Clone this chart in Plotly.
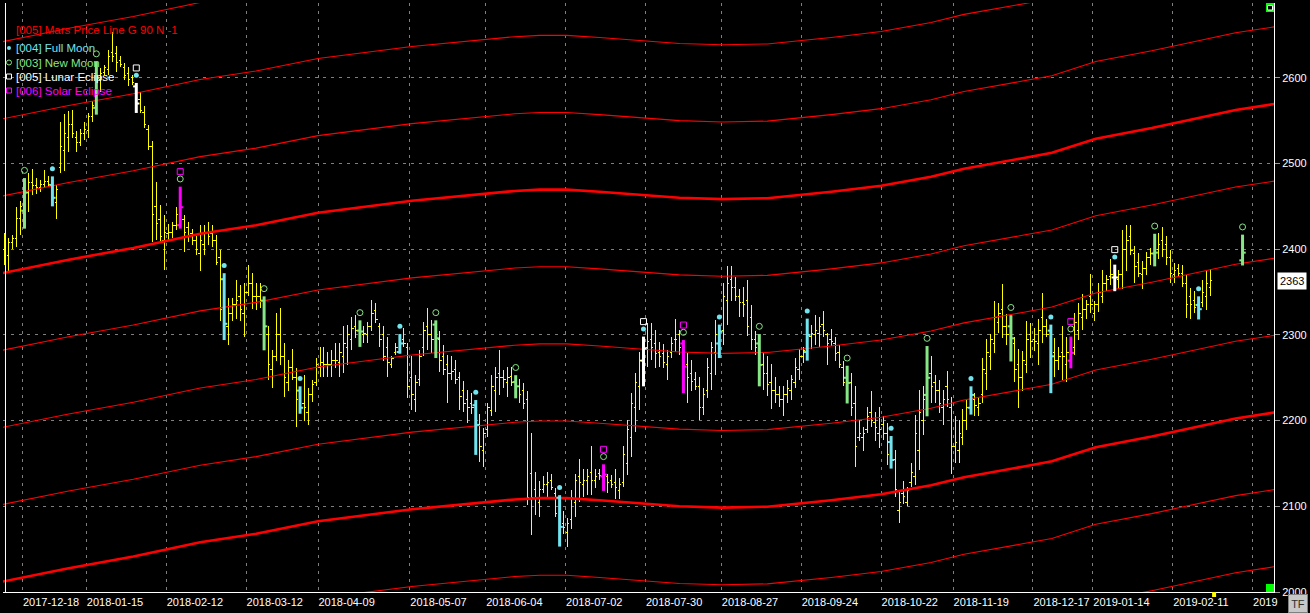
import plotly.graph_objects as go
import numpy as np

# ---------------- data (bar index = trading-day position) ----------------
bar_idx = list(range(1, 304)) + [311]

bar_high = [
 2419, 2413, 2417, 2449, 2456, 2483, 2489, 2494, 2483, 2481,
 2492, 2485, 2485, 2475, 2549, 2558, 2561, 2563, 2538, 2540,
 2549, 2559, 2573, 2619, 2611, 2615, 2633, 2654, 2637, 2625,
 2617, 2613, 2603, 2594, 2584, 2567, 2545, 2526, 2479, 2452,
 2440, 2430, 2432, 2449, 2473, 2440, 2432, 2424, 2415, 2428,
 2428, 2432, 2428, 2417, 2399, 2372, 2343, 2343, 2364, 2358,
 2360, 2382, 2372, 2360, 2360, 2345, 2310, 2282, 2325, 2331,
 2290, 2271, 2284, 2261, 2240, 2253, 2238, 2247, 2273, 2286,
 2286, 2280, 2282, 2290, 2290, 2310, 2312, 2321, 2323, 2317,
 2310, 2315, 2341, 2337, 2314, 2310, 2298, 2275, 2290, 2301,
 2308, 2290, 2275, 2253, 2282, 2315, 2331, 2317, 2317, 2304,
 2288, 2277, 2275, 2271, 2257, 2246, 2236, 2232, 2224, 2208,
 2191, 2220, 2253, 2263, 2282, 2259, 2263, 2263, 2253, 2249,
 2244, 2234, 2185, 2140, 2129, 2135, 2140, 2138, 2121, 2113,
 2094, 2086, 2119, 2138, 2155, 2143, 2143, 2170, 2143, 2144,
 2149, 2138, 2137, 2144, 2133, 2170, 2201, 2232, 2255, 2280,
 2298, 2314, 2314, 2306, 2292, 2289, 2282, 2298, 2318, 2306,
 2294, 2279, 2271, 2257, 2251, 2238, 2273, 2292, 2317, 2312,
 2360, 2380, 2380, 2368, 2354, 2356, 2364, 2335, 2304, 2301,
 2280, 2275, 2266, 2251, 2240, 2240, 2247, 2253, 2273, 2284,
 2286, 2319, 2312, 2323, 2321, 2328, 2302, 2307, 2298, 2288,
 2269, 2264, 2255, 2240, 2201, 2193, 2216, 2234, 2210, 2216,
 2205, 2197, 2182, 2166, 2117, 2129, 2123, 2150, 2207, 2236,
 2240, 2287, 2275, 2253, 2247, 2236, 2258, 2228, 2205, 2201,
 2213, 2224, 2240, 2232, 2228, 2273, 2295, 2301, 2339, 2337,
 2359, 2324, 2323, 2298, 2284, 2281, 2316, 2314, 2308, 2319,
 2349, 2318, 2312, 2296, 2286, 2310, 2298, 2298, 2325, 2337,
 2348, 2341, 2371, 2339, 2360, 2376, 2370, 2388, 2382, 2376,
 2423, 2428, 2428, 2404, 2395, 2386, 2397, 2401, 2418, 2419,
 2426, 2415, 2399, 2384, 2383, 2382, 2370, 2355, 2351, 2345,
 2364, 2376, 2377,
 2417]

bar_low = [
 2382, 2374, 2400, 2403, 2417, 2424, 2444, 2463, 2465, 2467,
 2471, 2473, 2450, 2435, 2489, 2491, 2514, 2530, 2514, 2520,
 2528, 2530, 2549, 2557, 2584, 2603, 2603, 2619, 2607, 2613,
 2598, 2590, 2592, 2559, 2559, 2541, 2516, 2409, 2411, 2409,
 2376, 2411, 2413, 2423, 2424, 2397, 2409, 2405, 2393, 2374,
 2393, 2405, 2403, 2382, 2316, 2294, 2288, 2316, 2318, 2316,
 2298, 2345, 2330, 2329, 2331, 2282, 2247, 2238, 2269, 2265,
 2228, 2234, 2247, 2193, 2208, 2199, 2195, 2222, 2240, 2251,
 2251, 2251, 2251, 2261, 2251, 2255, 2265, 2282, 2296, 2286,
 2290, 2290, 2304, 2314, 2286, 2269, 2251, 2261, 2277, 2278,
 2286, 2226, 2212, 2210, 2240, 2275, 2282, 2279, 2273, 2257,
 2253, 2220, 2247, 2243, 2212, 2210, 2197, 2208, 2160, 2152,
 2146, 2181, 2205, 2210, 2230, 2238, 2228, 2240, 2226, 2220,
 2214, 2101, 2066, 2090, 2088, 2115, 2111, 2119, 2088, 2053,
 2068, 2053, 2074, 2088, 2105, 2111, 2113, 2113, 2121, 2131,
 2118, 2115, 2121, 2109, 2108, 2123, 2137, 2158, 2187, 2212,
 2240, 2263, 2271, 2261, 2263, 2261, 2247, 2273, 2280, 2277,
 2232, 2220, 2234, 2236, 2201, 2207, 2226, 2236, 2253, 2273,
 2288, 2312, 2339, 2339, 2321, 2321, 2299, 2282, 2277, 2240,
 2236, 2229, 2213, 2220, 2216, 2205, 2220, 2224, 2238, 2247,
 2267, 2270, 2284, 2288, 2286, 2298, 2265, 2287, 2270, 2261,
 2240, 2220, 2205, 2146, 2176, 2164, 2185, 2193, 2176, 2168,
 2177, 2148, 2144, 2111, 2080, 2103, 2100, 2123, 2125, 2142,
 2183, 2205, 2220, 2220, 2209, 2195, 2216, 2138, 2150, 2150,
 2172, 2189, 2207, 2205, 2205, 2220, 2236, 2259, 2279, 2302,
 2296, 2288, 2269, 2245, 2215, 2235, 2255, 2273, 2281, 2265,
 2290, 2298, 2232, 2251, 2259, 2247, 2245, 2261, 2277, 2294,
 2306, 2318, 2326, 2316, 2327, 2337, 2351, 2358, 2351, 2354,
 2354, 2374, 2393, 2360, 2368, 2353, 2370, 2382, 2380, 2388,
 2391, 2382, 2360, 2360, 2368, 2356, 2320, 2318, 2325, 2318,
 2333, 2329, 2345,
 2381]

bar_open = [
 2400, 2393, 2408, 2412, 2436, 2445, 2466, 2478, 2474, 2472,
 2476, 2479, 2475, 2455, 2495, 2515, 2530, 2545, 2530, 2525,
 2535, 2538, 2555, 2565, 2598, 2606, 2610, 2630, 2628, 2620,
 2612, 2605, 2600, 2590, 2575, 2560, 2540, 2520, 2450, 2435,
 2410, 2418, 2420, 2428, 2428, 2435, 2425, 2418, 2410, 2395,
 2405, 2420, 2418, 2410, 2390, 2365, 2310, 2325, 2335, 2345,
 2325, 2350, 2360, 2345, 2345, 2340, 2300, 2260, 2275, 2300,
 2275, 2245, 2262, 2250, 2235, 2220, 2210, 2230, 2245, 2262,
 2268, 2265, 2266, 2270, 2268, 2275, 2285, 2295, 2310, 2305,
 2300, 2300, 2310, 2328, 2310, 2300, 2285, 2265, 2280, 2280,
 2295, 2285, 2250, 2225, 2248, 2285, 2310, 2300, 2312, 2295,
 2275, 2265, 2255, 2260, 2250, 2235, 2225, 2220, 2218, 2195,
 2165, 2190, 2212, 2235, 2255, 2250, 2245, 2252, 2245, 2240,
 2235, 2225, 2138, 2120, 2105, 2120, 2125, 2130, 2115, 2110,
 2080, 2070, 2085, 2105, 2135, 2125, 2130, 2140, 2130, 2138,
 2135, 2135, 2130, 2128, 2118, 2128, 2150, 2180, 2215, 2240,
 2270, 2285, 2295, 2290, 2280, 2278, 2265, 2280, 2295, 2300,
 2290, 2265, 2255, 2248, 2240, 2215, 2235, 2255, 2280, 2290,
 2305, 2340, 2365, 2355, 2345, 2338, 2340, 2320, 2295, 2290,
 2265, 2255, 2245, 2235, 2230, 2225, 2230, 2235, 2245, 2260,
 2275, 2280, 2298, 2300, 2302, 2312, 2300, 2295, 2290, 2280,
 2262, 2250, 2245, 2220, 2180, 2180, 2190, 2210, 2198, 2185,
 2195, 2185, 2175, 2155, 2095, 2115, 2105, 2128, 2135, 2165,
 2200, 2230, 2255, 2245, 2235, 2215, 2240, 2215, 2170, 2165,
 2180, 2200, 2215, 2225, 2215, 2230, 2255, 2275, 2290, 2315,
 2330, 2310, 2310, 2290, 2265, 2250, 2265, 2300, 2295, 2290,
 2320, 2310, 2305, 2280, 2270, 2280, 2265, 2270, 2285, 2305,
 2320, 2330, 2345, 2325, 2335, 2345, 2360, 2368, 2367, 2365,
 2370, 2400, 2415, 2395, 2385, 2370, 2378, 2390, 2395, 2400,
 2410, 2405, 2390, 2370, 2378, 2372, 2360, 2345, 2340, 2335,
 2338, 2345, 2355,
 2387]

bar_close = [
 2393, 2408, 2412, 2436, 2450, 2466, 2478, 2474, 2472, 2476,
 2479, 2475, 2460, 2470, 2520, 2535, 2545, 2535, 2525, 2535,
 2540, 2555, 2568, 2600, 2605, 2612, 2625, 2625, 2618, 2615,
 2603, 2598, 2595, 2570, 2562, 2545, 2520, 2440, 2430, 2415,
 2420, 2420, 2428, 2440, 2449, 2420, 2415, 2410, 2400, 2410,
 2418, 2415, 2410, 2385, 2330, 2313, 2325, 2335, 2340, 2330,
 2350, 2360, 2345, 2345, 2340, 2310, 2265, 2275, 2300, 2275,
 2250, 2262, 2250, 2225, 2215, 2215, 2230, 2242, 2265, 2268,
 2265, 2266, 2270, 2270, 2280, 2290, 2300, 2308, 2305, 2304,
 2302, 2310, 2325, 2318, 2295, 2275, 2268, 2272, 2285, 2290,
 2290, 2240, 2230, 2245, 2275, 2305, 2300, 2295, 2296, 2270,
 2260, 2255, 2257, 2248, 2228, 2220, 2215, 2215, 2195, 2170,
 2185, 2215, 2240, 2250, 2250, 2248, 2250, 2245, 2240, 2230,
 2220, 2110, 2110, 2110, 2120, 2125, 2128, 2122, 2092, 2076,
 2075, 2080, 2110, 2130, 2128, 2130, 2135, 2130, 2135, 2136,
 2137, 2128, 2126, 2122, 2125, 2160, 2190, 2220, 2245, 2270,
 2284, 2292, 2285, 2278, 2275, 2268, 2275, 2290, 2295, 2285,
 2263, 2250, 2246, 2240, 2215, 2230, 2262, 2285, 2300, 2304,
 2345, 2360, 2355, 2345, 2338, 2335, 2310, 2295, 2285, 2265,
 2255, 2242, 2235, 2230, 2225, 2230, 2238, 2248, 2262, 2275,
 2282, 2300, 2302, 2305, 2310, 2305, 2290, 2292, 2278, 2265,
 2245, 2244, 2215, 2170, 2185, 2185, 2205, 2200, 2192, 2190,
 2185, 2160, 2154, 2120, 2105, 2112, 2118, 2140, 2185, 2210,
 2225, 2250, 2240, 2235, 2220, 2225, 2225, 2170, 2175, 2185,
 2200, 2215, 2230, 2218, 2220, 2260, 2280, 2295, 2320, 2325,
 2310, 2300, 2296, 2260, 2250, 2270, 2295, 2292, 2292, 2305,
 2310, 2300, 2275, 2270, 2275, 2275, 2280, 2279, 2315, 2325,
 2330, 2335, 2335, 2335, 2350, 2360, 2365, 2370, 2367, 2370,
 2400, 2410, 2398, 2380, 2372, 2378, 2390, 2395, 2396, 2405,
 2400, 2390, 2372, 2375, 2372, 2360, 2335, 2335, 2332, 2330,
 2350, 2360, 2363,
 2396]

# lunar events (bar indices)
full_moon = [13, 56, 75, 100, 119, 140, 180, 202, 223, 243, 263, 300]
lunar_eclipse = [34, 161, 279]
new_moon = [6, 24, 66, 90, 109, 129, 190, 212, 232, 253, 289, 311]
solar_eclipse = [45, 151, 171, 268]

# x-axis date labels
date_tick_pos = [5.5, 21.5, 41.5, 61.5, 79.5, 102.5, 121.5, 141.5, 161.5,
                 180.5, 200.5, 220.5, 238.5, 258.5, 273.5, 293.5, 313.5]
date_tick_text = ["2017-12-18", "2018-01-15", "2018-02-12", "2018-03-12",
                  "2018-04-09", "2018-05-07", "2018-06-04", "2018-07-02",
                  "2018-07-30", "2018-08-27", "2018-09-24", "2018-10-22",
                  "2018-11-19", "2018-12-17", "2019-01-14", "2019-02-11", "2019"]

# Mars price line (base harmonic), read at bar positions
mars_k = [0.4, 16.75, 33.25, 50, 64, 79.5, 103, 128.75, 135, 141.75, 150, 160, 170,
          180.75, 192, 208, 220.5, 233, 241.25, 256.25, 263.25, 274.25, 288.25,
          296.75, 309.25, 319]
mars_v = [2372, 2387.5, 2401.5, 2418, 2428, 2442.5, 2456.5, 2468, 2469.5, 2469.5,
          2467, 2463.5, 2460, 2458.5, 2459.5, 2467, 2474, 2484.5, 2494, 2506.5,
          2512.5, 2529, 2541.5, 2550, 2562.5, 2569.5]
mars_harmonics = list(range(-6, 4))
mars_step = 90

last_price = 2363

assert len(bar_idx) == len(bar_high) == len(bar_low) == len(bar_open) == len(bar_close)

# ---------------- styling ----------------
YELLOW = "#ffff00"
CYAN = "#72e4ef"
GREEN = "#86e686"
WHITE = "#ffffff"
MAGENTA = "#ff00ff"
RED = "#ff0000"
GRID = "#7f7f7f"
FONT = "Liberation Sans, Arial, sans-serif"

W, H = 1310, 613
ML, MR, MT, MB = 3, 34, 3, 21
PW, PH = W - ML - MR, H - MT - MB


def px2x(px):
    return (px - ML) / PW


def py2y(py):
    return (MT + PH - py) / PH


pos = {k: i for i, k in enumerate(bar_idx)}
highlight = set(full_moon + lunar_eclipse + new_moon + solar_eclipse)
plain = [k for k in bar_idx if k not in highlight]

fig = go.Figure()

# plain OHLC bars
fig.add_trace(go.Ohlc(
    x=plain,
    open=[bar_open[pos[k]] for k in plain],
    high=[bar_high[pos[k]] for k in plain],
    low=[bar_low[pos[k]] for k in plain],
    close=[bar_close[pos[k]] for k in plain],
    increasing=dict(line=dict(color=YELLOW, width=1)),
    decreasing=dict(line=dict(color=YELLOW, width=1)),
    tickwidth=0.45, hoverinfo="skip", showlegend=False))

# Mars price lines
for n in mars_harmonics:
    thick = (n % 4 == 0)
    fig.add_trace(go.Scatter(
        x=mars_k, y=[v + n * mars_step for v in mars_v], mode="lines",
        line=dict(color=RED, width=2.6 if thick else 1.1),
        hoverinfo="skip", showlegend=False))


def add_highlight(idxs, color):
    sx, sy, tx, ty = [], [], [], []
    for k in idxs:
        p = pos[k]
        sx += [k, k, None]
        sy += [bar_low[p], bar_high[p], None]
        tx += [k - 0.8, k, None, k, k + 0.8, None]
        ty += [bar_open[p], bar_open[p], None, bar_close[p], bar_close[p], None]
    fig.add_trace(go.Scatter(x=sx, y=sy, mode="lines", line=dict(color=color, width=3),
                             hoverinfo="skip", showlegend=False))
    fig.add_trace(go.Scatter(x=tx, y=ty, mode="lines", line=dict(color=color, width=2),
                             hoverinfo="skip", showlegend=False))


add_highlight(full_moon, CYAN)
add_highlight(new_moon, GREEN)
add_highlight(lunar_eclipse, WHITE)
add_highlight(solar_eclipse, MAGENTA)

# event markers above the bars
fm_all = full_moon + lunar_eclipse
nm_all = new_moon + solar_eclipse
fig.add_trace(go.Scatter(
    x=fm_all, y=[bar_high[pos[k]] + 9 for k in fm_all], mode="markers",
    marker=dict(symbol="circle", size=5, color=CYAN, line=dict(width=0)),
    hoverinfo="skip", showlegend=False))
fig.add_trace(go.Scatter(
    x=nm_all, y=[bar_high[pos[k]] + 9 for k in nm_all], mode="markers",
    marker=dict(symbol="circle-open", size=6, color=GREEN, line=dict(width=1, color=GREEN)),
    hoverinfo="skip", showlegend=False))
fig.add_trace(go.Scatter(
    x=lunar_eclipse, y=[bar_high[pos[k]] + 17.5 for k in lunar_eclipse], mode="markers",
    marker=dict(symbol="square-open", size=6, color=WHITE, line=dict(width=1, color=WHITE)),
    hoverinfo="skip", showlegend=False))
fig.add_trace(go.Scatter(
    x=solar_eclipse, y=[bar_high[pos[k]] + 17.5 for k in solar_eclipse], mode="markers",
    marker=dict(symbol="square-open", size=6, color=MAGENTA, line=dict(width=1, color=MAGENTA)),
    hoverinfo="skip", showlegend=False))

# ---------------- layout ----------------
x0 = 0.625
x1 = x0 + PW / 4.0
fig.update_layout(
    width=W, height=H,
    margin=dict(l=ML, r=MR, t=MT, b=MB, pad=0),
    paper_bgcolor="#000000", plot_bgcolor="#000000",
    font=dict(family=FONT, size=11, color=WHITE),
    showlegend=False, hovermode=False,
    xaxis=dict(
        range=[x0, x1], type="linear", fixedrange=True,
        rangeslider=dict(visible=False),
        tickmode="array", tickvals=date_tick_pos, ticktext=date_tick_text,
        ticks="", tickangle=0, ticklabelposition="outside right",
        tickfont=dict(family=FONT, size=11, color=WHITE),
        showgrid=True, gridcolor=GRID, gridwidth=1, griddash="3px,5px",
        showline=True, linecolor=WHITE, linewidth=1, zeroline=False),
    yaxis=dict(
        range=[2000, 2687.3], side="right", fixedrange=True,
        tickmode="linear", tick0=2000, dtick=100,
        ticks="outside", ticklen=5, tickcolor="#9a9a9a",
        tickfont=dict(family=FONT, size=11, color=WHITE),
        showgrid=True, gridcolor=GRID, gridwidth=1, griddash="3px,5px",
        showline=True, linecolor=WHITE, linewidth=1, zeroline=False),
)

shapes = []
annotations = []

# left frame line
shapes.append(dict(type="line", xref="paper", yref="paper", x0=px2x(5.5), x1=px2x(5.5),
                   y0=0, y1=1, line=dict(color=WHITE, width=1)))

# legend block
legend_items = [
    ("[005] Mars Price Line G 90 N -1", RED, None, 30),
    ("[004] Full Moon", CYAN, "dot", 48),
    ("[003] New Moon", GREEN, "ring", 62.5),
    ("[005] Lunar Eclipse", WHITE, "box", 76.5),
    ("[006] Solar Eclipse", MAGENTA, "box", 90.5),
]
for text, col, sym, yc in legend_items:
    annotations.append(dict(text=text, xref="paper", yref="paper", x=px2x(14.5), y=py2y(yc),
                            xanchor="left", yanchor="middle", showarrow=False,
                            font=dict(family=FONT, size=11.5, color=col)))
    if sym == "dot":
        shapes.append(dict(type="circle", xref="paper", yref="paper",
                           x0=px2x(7), x1=px2x(11), y0=py2y(yc + 2), y1=py2y(yc - 2),
                           fillcolor=col, line=dict(width=0)))
    elif sym == "ring":
        shapes.append(dict(type="circle", xref="paper", yref="paper",
                           x0=px2x(6.5), x1=px2x(11.5), y0=py2y(yc + 2.5), y1=py2y(yc - 2.5),
                           line=dict(color=col, width=1)))
    elif sym == "box":
        shapes.append(dict(type="rect", xref="paper", yref="paper",
                           x0=px2x(6.5), x1=px2x(11.5), y0=py2y(yc + 2.5), y1=py2y(yc - 2.5),
                           line=dict(color=col, width=1)))

# corner indicators
shapes.append(dict(type="rect", xref="paper", yref="paper", x0=px2x(1268), x1=px2x(1276),
                   y0=py2y(12), y1=py2y(3), fillcolor="#00ff00", line=dict(width=0)))
shapes.append(dict(type="rect", xref="paper", yref="paper", x0=px2x(1269.5), x1=px2x(1274.5),
                   y0=py2y(10), y1=py2y(5.5), fillcolor="#000000", line=dict(color=WHITE, width=1)))
shapes.append(dict(type="rect", xref="paper", yref="paper", x0=px2x(1268), x1=px2x(1276),
                   y0=py2y(592), y1=py2y(584), fillcolor="#00ff00", line=dict(width=0)))
shapes.append(dict(type="rect", xref="paper", yref="paper", x0=px2x(1214), x1=px2x(1218),
                   y0=py2y(597), y1=py2y(592), fillcolor=YELLOW, line=dict(width=0)))

# last price box
annotations.append(dict(text=str(last_price), xref="paper", yref="y", x=1, y=last_price,
                        xanchor="left", yanchor="middle", xshift=3, showarrow=False,
                        bgcolor=WHITE, borderpad=2,
                        font=dict(family=FONT, size=11, color="#000000")))
# TF button
annotations.append(dict(text="TF", xref="paper", yref="paper", x=px2x(1300), y=py2y(603.5),
                        xanchor="center", yanchor="middle", showarrow=False,
                        bgcolor="#c8c8c8", bordercolor="#808080", borderwidth=1,
                        width=16, height=15,
                        font=dict(family=FONT, size=11, color="#303030")))

fig.update_layout(shapes=shapes, annotations=annotations)

fig.write_html(
    "out.html", config={"displayModeBar": False},
    post_script=(
        "document.body.style.margin='0';document.body.style.overflow='hidden';"
        "document.body.style.background='#000';"
        "document.querySelectorAll('.ohlclayer path, g.ohlc path').forEach("
        "function(p){p.style.shapeRendering='crispEdges';});"))
